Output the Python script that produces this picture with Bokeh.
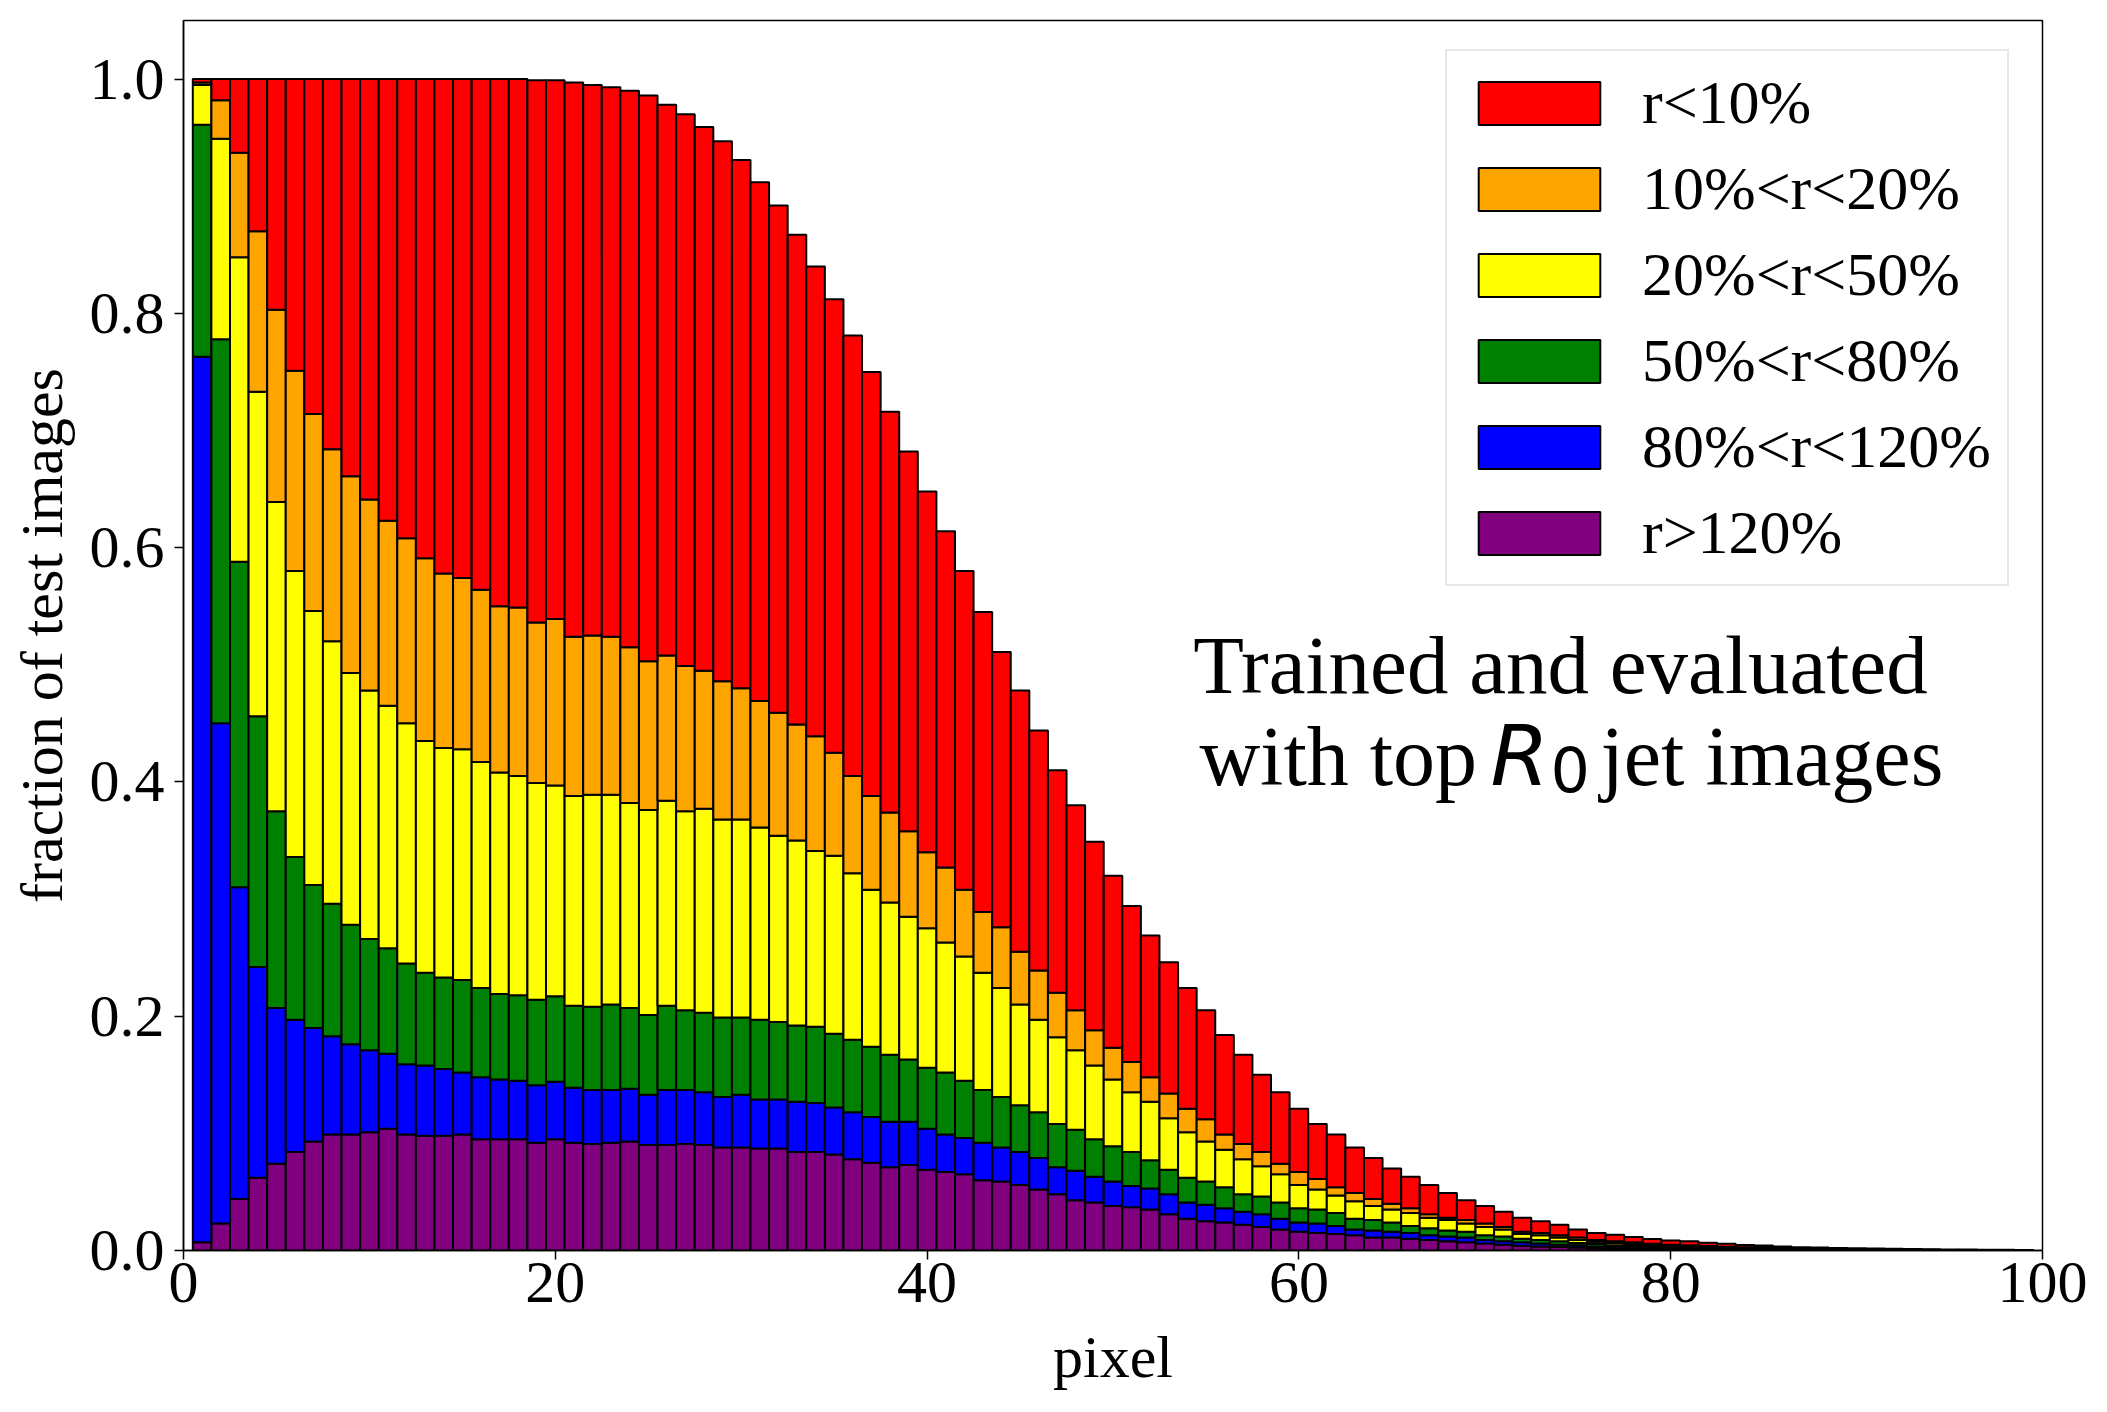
from bokeh.plotting import figure
from bokeh.models import Range1d, Legend, LegendItem, Label, PrintfTickFormatter, FixedTicker
from bokeh.embed import file_html
from bokeh.resources import INLINE

# pixel index of each bar
pixels = list(range(1, 100))

# cumulative (stacked) top of each category
top_gt120 = [0.007,0.023,0.044,0.062,0.074,0.084,0.093,0.099,0.099,0.101,
0.104,0.099,0.098,0.098,0.099,0.095,0.095,0.095,0.092,0.095,
0.092,0.091,0.092,0.093,0.090,0.090,0.091,0.090,0.088,0.088,
0.087,0.087,0.084,0.084,0.082,0.078,0.075,0.071,0.073,0.069,
0.067,0.065,0.060,0.059,0.056,0.052,0.048,0.043,0.041,0.038,
0.037,0.035,0.031,0.027,0.025,0.024,0.022,0.020,0.018,0.016,
0.015,0.014,0.013,0.011,0.011,0.010,0.009,0.008,0.007,0.006,
0.005,0.004,0.0035,0.003,0.0025,0.002,0.0018,0.0015,0.0013,0.0011,
0.001,0.0009,0.0008,0.0007,0.0006,0.0005,0.0004,0.0004,0.0003,0.0003,
0.0003,0.0002,0.0002,0.0002,0.0001,0.0001,0.0001,0.0001,0.0001]

top_80_120 = [0.763,0.450,0.310,0.242,0.207,0.197,0.190,0.183,0.176,0.171,
0.168,0.159,0.158,0.155,0.152,0.148,0.146,0.145,0.141,0.144,
0.139,0.137,0.137,0.138,0.133,0.137,0.137,0.135,0.131,0.133,
0.129,0.129,0.127,0.126,0.122,0.118,0.114,0.110,0.110,0.104,
0.099,0.096,0.092,0.088,0.084,0.079,0.071,0.068,0.063,0.059,
0.055,0.053,0.048,0.041,0.039,0.036,0.033,0.031,0.027,0.024,
0.023,0.021,0.018,0.017,0.016,0.015,0.013,0.012,0.011,0.009,
0.008,0.007,0.006,0.005,0.0045,0.0035,0.003,0.0027,0.0023,0.002,
0.0018,0.0015,0.0013,0.0011,0.001,0.0008,0.0007,0.0006,0.0005,0.0005,
0.0004,0.0004,0.0003,0.0003,0.0002,0.0002,0.0002,0.0002,0.0001]

top_50_80 = [0.961,0.778,0.588,0.456,0.375,0.336,0.312,0.296,0.278,0.266,
0.258,0.245,0.237,0.233,0.231,0.224,0.219,0.218,0.214,0.217,
0.209,0.208,0.210,0.207,0.201,0.209,0.205,0.203,0.199,0.199,
0.197,0.195,0.192,0.191,0.185,0.180,0.174,0.167,0.163,0.156,
0.152,0.145,0.137,0.131,0.124,0.118,0.108,0.103,0.095,0.089,
0.084,0.077,0.069,0.062,0.059,0.054,0.048,0.046,0.041,0.036,
0.035,0.032,0.027,0.026,0.024,0.021,0.019,0.017,0.016,0.013,
0.012,0.010,0.009,0.008,0.0065,0.0055,0.0045,0.004,0.0035,0.003,
0.0027,0.0023,0.002,0.0016,0.0015,0.0012,0.001,0.0009,0.0007,0.0007,
0.0006,0.0006,0.0004,0.0004,0.0003,0.0003,0.0003,0.0002,0.0002]

top_20_50 = [0.995,0.949,0.848,0.733,0.639,0.580,0.546,0.520,0.493,0.478,
0.465,0.450,0.435,0.429,0.428,0.417,0.408,0.405,0.399,0.397,
0.388,0.389,0.389,0.382,0.376,0.384,0.375,0.377,0.368,0.368,
0.361,0.354,0.350,0.341,0.337,0.322,0.308,0.297,0.285,0.275,
0.263,0.251,0.237,0.224,0.210,0.197,0.182,0.171,0.158,0.146,
0.135,0.127,0.113,0.101,0.093,0.086,0.078,0.072,0.065,0.056,
0.052,0.047,0.042,0.038,0.035,0.032,0.028,0.026,0.023,0.020,
0.018,0.014,0.013,0.011,0.009,0.0075,0.0065,0.0055,0.0048,0.004,
0.0036,0.003,0.0027,0.0022,0.002,0.0016,0.0013,0.0012,0.001,0.0009,
0.0008,0.0008,0.0006,0.0005,0.0004,0.0004,0.0004,0.0003,0.0003]

top_10_20 = [0.997,0.982,0.937,0.870,0.803,0.751,0.714,0.684,0.661,0.641,
0.623,0.608,0.591,0.578,0.574,0.564,0.550,0.549,0.536,0.539,
0.524,0.525,0.524,0.515,0.503,0.508,0.499,0.495,0.486,0.480,
0.469,0.459,0.449,0.439,0.425,0.405,0.388,0.374,0.358,0.340,
0.327,0.308,0.289,0.276,0.255,0.239,0.220,0.205,0.188,0.173,
0.161,0.148,0.134,0.121,0.112,0.099,0.091,0.084,0.074,0.067,
0.061,0.054,0.049,0.044,0.040,0.036,0.031,0.028,0.026,0.023,
0.020,0.016,0.015,0.013,0.011,0.009,0.008,0.007,0.0058,0.005,
0.0045,0.0038,0.0033,0.0027,0.0025,0.002,0.0016,0.0015,0.0012,0.0011,
0.001,0.001,0.0007,0.0006,0.0005,0.0005,0.0004,0.0004,0.0003]

top_lt10 = [1.000,1.000,1.000,1.000,1.000,1.000,1.000,1.000,1.000,1.000,
1.000,1.000,1.000,1.000,1.000,1.000,1.000,1.000,0.999,0.999,
0.997,0.995,0.993,0.990,0.986,0.978,0.970,0.959,0.947,0.931,
0.912,0.892,0.867,0.840,0.812,0.781,0.750,0.716,0.682,0.648,
0.614,0.580,0.545,0.511,0.478,0.444,0.410,0.380,0.349,0.320,
0.294,0.269,0.246,0.224,0.205,0.184,0.167,0.150,0.135,0.121,
0.108,0.099,0.088,0.079,0.070,0.063,0.056,0.049,0.043,0.038,
0.033,0.028,0.025,0.022,0.018,0.015,0.0135,0.0115,0.0098,0.0085,
0.0078,0.0066,0.0058,0.0046,0.0042,0.0035,0.0028,0.0026,0.0021,0.002,
0.0017,0.0016,0.0012,0.001,0.0009,0.0008,0.0007,0.0006,0.0005]

labels = ["r<10%", "10%<r<20%", "20%<r<50%", "50%<r<80%", "80%<r<120%", "r>120%"]
colors = ["red", "orange", "yellow", "green", "blue", "purple"]
x_ticks = [0, 20, 40, 60, 80, 100]
y_ticks = [0.0, 0.2, 0.4, 0.6, 0.8, 1.0]

SERIF = "Liberation Serif"

p = figure(width=2091, height=1396, output_backend="svg", toolbar_location=None,
           x_range=Range1d(0, 100), y_range=Range1d(0, 1.05),
           min_border_left=183, min_border_right=49, min_border_top=20, min_border_bottom=146)
p.background_fill_color = "white"
p.border_fill_color = "white"
p.grid.visible = False
p.outline_line_color = "black"
p.outline_line_width = 1.5

zeros = [0.0] * len(pixels)
# stack from bottom: r>120%, 80-120, 50-80, 20-50, 10-20, <10
stack_tops = [top_gt120, top_80_120, top_50_80, top_20_50, top_10_20, top_lt10]
stack_labels = labels[::-1]
stack_colors = colors[::-1]
renderers = {}
bottom = zeros
for tops, lab, col in zip(stack_tops, stack_labels, stack_colors):
    r = p.vbar(x=pixels, width=1.0, bottom=bottom, top=tops, fill_color=col,
               line_color="black", line_width=2)
    renderers[lab] = r
    bottom = tops

items = [LegendItem(label=lab, renderers=[renderers[lab]]) for lab in labels]
legend = Legend(items=items, location=(1262, 664))
legend.label_text_font = SERIF
legend.label_text_font_size = "62px"
legend.label_text_color = "black"
legend.glyph_width = 152
legend.glyph_height = 54
legend.label_height = 43
legend.label_standoff = 27
legend.spacing = 15
legend.padding = 16
legend.margin = 0
legend.border_line_color = "#d0d0d0"
legend.border_line_width = 2
legend.background_fill_alpha = 0.8
p.add_layout(legend)

for ax in (p.xaxis, p.yaxis):
    ax.major_label_text_font = SERIF
    ax.major_label_text_font_size = "60px"
    ax.axis_label_text_font = SERIF
    ax.axis_label_text_font_size = "60px"
    ax.axis_label_text_font_style = "normal"
    ax.major_tick_out = 9
    ax.major_tick_in = 0
    ax.minor_tick_out = 0
    ax.minor_tick_in = 0
    ax.axis_line_width = 1.5
    ax.major_tick_line_width = 1.5
    ax.major_label_text_color = "black"
    ax.axis_label_text_color = "black"

p.xaxis.ticker = FixedTicker(ticks=x_ticks)
p.yaxis.ticker = FixedTicker(ticks=y_ticks)
p.yaxis.formatter = PrintfTickFormatter(format="%.1f")
p.xaxis.axis_label = "pixel"
p.yaxis.axis_label = "fraction of test images"
p.xaxis.major_label_standoff = 3
p.yaxis.major_label_standoff = 10
p.xaxis.axis_label_standoff = 19
p.yaxis.axis_label_standoff = 12

# annotation text (data coordinates)
p.add_layout(Label(x=74.07, y=0.4996, text="Trained and evaluated", text_font=SERIF,
                   text_color="black", text_font_size="83px", text_align="center",
                   text_baseline="alphabetic"))
p.add_layout(Label(x=54.65, y=0.4219, text="with top", text_font=SERIF, text_color="black",
                   text_font_size="84px", text_align="left", text_baseline="alphabetic"))
p.add_layout(Label(x=70.3, y=0.4219, text="R", text_font="DejaVu Sans", text_font_style="italic",
                   text_color="black", text_font_size="84px", text_align="left",
                   text_baseline="alphabetic"))
p.add_layout(Label(x=73.53, y=0.4109, text="0", text_font="DejaVu Sans", text_color="black",
                   text_font_size="62px", text_align="left", text_baseline="alphabetic"))
p.add_layout(Label(x=76.22, y=0.4219, text="jet images", text_font=SERIF, text_color="black",
                   text_font_size="84px", text_align="left", text_baseline="alphabetic"))

open("out.html", "w").write(file_html(p, INLINE))
